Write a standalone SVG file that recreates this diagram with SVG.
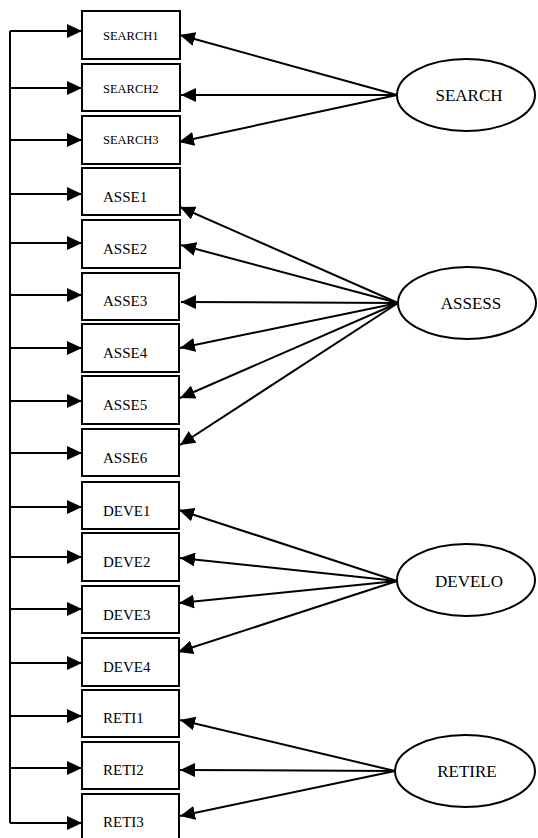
<svg xmlns="http://www.w3.org/2000/svg" width="538" height="838" viewBox="0 0 538 838">
  <defs>
    <marker id="arrow" markerUnits="userSpaceOnUse" markerWidth="16" markerHeight="14" refX="15" refY="7" orient="auto">
      <path d="M0,0 L15,7 L0,14 Z" fill="#000"/>
    </marker>
    <style>
      .box { fill: #fff; stroke: #000; stroke-width: 2; }
      .ell { fill: #fff; stroke: #000; stroke-width: 2; }
      .lbl { font-family: "Liberation Serif", "Times New Roman", serif; font-size: 15px; fill: #000; }
      .lbl-s { font-family: "Liberation Serif", "Times New Roman", serif; font-size: 12.5px; fill: #000; }
      .fac { font-family: "Liberation Serif", "Times New Roman", serif; font-size: 17px; fill: #000; text-anchor: middle; }
      .edge { fill: none; stroke: #000; stroke-width: 2; marker-end: url(#arrow); }
      .rail { fill: none; stroke: #000; stroke-width: 2; }
    </style>
  </defs>
  <rect width="538" height="838" fill="#fff"/>

  <!-- connectors -->
  <g id="connectors">
    <!-- shared rail on the left feeding every indicator -->
    <path class="rail" d="M10,31 L10,823"/>
    <line class="edge" x1="10" y1="31" x2="82" y2="31"/>
    <line class="edge" x1="10" y1="88" x2="82" y2="88"/>
    <line class="edge" x1="10" y1="140" x2="82" y2="140"/>
    <line class="edge" x1="10" y1="194" x2="82" y2="194"/>
    <line class="edge" x1="10" y1="243" x2="82" y2="243"/>
    <line class="edge" x1="10" y1="295" x2="82" y2="295"/>
    <line class="edge" x1="10" y1="348" x2="82" y2="348"/>
    <line class="edge" x1="10" y1="401" x2="82" y2="401"/>
    <line class="edge" x1="10" y1="453" x2="82" y2="453"/>
    <line class="edge" x1="10" y1="507" x2="82" y2="507"/>
    <line class="edge" x1="10" y1="557" x2="82" y2="557"/>
    <line class="edge" x1="10" y1="609" x2="82" y2="609"/>
    <line class="edge" x1="10" y1="663" x2="82" y2="663"/>
    <line class="edge" x1="10" y1="716" x2="82" y2="716"/>
    <line class="edge" x1="10" y1="768" x2="82" y2="768"/>
    <line class="edge" x1="10" y1="823" x2="82" y2="823"/>

    <!-- SEARCH loadings -->
    <line class="edge" x1="397" y1="95" x2="180" y2="35"/>
    <line class="edge" x1="397" y1="95" x2="181" y2="95"/>
    <line class="edge" x1="397" y1="95" x2="179" y2="142"/>
    <!-- ASSESS loadings -->
    <line class="edge" x1="398" y1="303" x2="180" y2="207"/>
    <line class="edge" x1="398" y1="303" x2="181" y2="245"/>
    <line class="edge" x1="398" y1="303" x2="181" y2="302"/>
    <line class="edge" x1="398" y1="303" x2="180" y2="348"/>
    <line class="edge" x1="398" y1="303" x2="180" y2="398"/>
    <line class="edge" x1="398" y1="303" x2="180" y2="445"/>
    <!-- DEVELO loadings -->
    <line class="edge" x1="397" y1="581" x2="179" y2="510"/>
    <line class="edge" x1="397" y1="581" x2="180" y2="558"/>
    <line class="edge" x1="397" y1="581" x2="179" y2="603"/>
    <line class="edge" x1="397" y1="581" x2="178" y2="652"/>
    <!-- RETIRE loadings -->
    <line class="edge" x1="395" y1="771" x2="180" y2="720"/>
    <line class="edge" x1="395" y1="771" x2="180" y2="770"/>
    <line class="edge" x1="395" y1="771" x2="180" y2="816"/>
  </g>

  <!-- indicator boxes -->
  <g id="search1"><rect class="box" x="82" y="11" width="98" height="48"/><text class="lbl-s" x="103" y="40">SEARCH1</text></g>
  <g id="search2"><rect class="box" x="82" y="64" width="98" height="47"/><text class="lbl-s" x="103" y="93">SEARCH2</text></g>
  <g id="search3"><rect class="box" x="82" y="116" width="98" height="48"/><text class="lbl-s" x="103" y="144">SEARCH3</text></g>
  <g id="asse1"><rect class="box" x="82" y="168" width="98" height="47"/><text class="lbl" x="103" y="202">ASSE1</text></g>
  <g id="asse2"><rect class="box" x="82" y="220" width="98" height="48"/><text class="lbl" x="103" y="254">ASSE2</text></g>
  <g id="asse3"><rect class="box" x="82" y="273" width="97" height="47"/><text class="lbl" x="103" y="306">ASSE3</text></g>
  <g id="asse4"><rect class="box" x="82" y="324" width="97" height="48"/><text class="lbl" x="103" y="358">ASSE4</text></g>
  <g id="asse5"><rect class="box" x="82" y="376" width="97" height="48"/><text class="lbl" x="103" y="410">ASSE5</text></g>
  <g id="asse6"><rect class="box" x="82" y="429" width="97" height="47"/><text class="lbl" x="103" y="463">ASSE6</text></g>
  <g id="deve1"><rect class="box" x="82" y="482" width="97" height="47"/><text class="lbl" x="103" y="516">DEVE1</text></g>
  <g id="deve2"><rect class="box" x="82" y="533" width="97" height="48"/><text class="lbl" x="103" y="567">DEVE2</text></g>
  <g id="deve3"><rect class="box" x="82" y="586" width="97" height="47"/><text class="lbl" x="103" y="620">DEVE3</text></g>
  <g id="deve4"><rect class="box" x="82" y="638" width="97" height="48"/><text class="lbl" x="103" y="672">DEVE4</text></g>
  <g id="reti1"><rect class="box" x="82" y="690" width="97" height="47"/><text class="lbl" x="103" y="723">RETI1</text></g>
  <g id="reti2"><rect class="box" x="82" y="742" width="97" height="47"/><text class="lbl" x="103" y="775">RETI2</text></g>
  <g id="reti3"><rect class="box" x="82" y="794" width="97" height="48"/><text class="lbl" x="103" y="827">RETI3</text></g>

  <!-- latent factors -->
  <g id="search"><ellipse class="ell" cx="466" cy="95" rx="69" ry="36"/><text class="fac" x="469" y="101">SEARCH</text></g>
  <g id="assess"><ellipse class="ell" cx="467" cy="303" rx="69" ry="36"/><text class="fac" x="471" y="309">ASSESS</text></g>
  <g id="develo"><ellipse class="ell" cx="466" cy="580" rx="69" ry="36"/><text class="fac" x="469" y="587">DEVELO</text></g>
  <g id="retire"><ellipse class="ell" cx="465" cy="771" rx="70" ry="36"/><text class="fac" x="467" y="777">RETIRE</text></g>
</svg>
